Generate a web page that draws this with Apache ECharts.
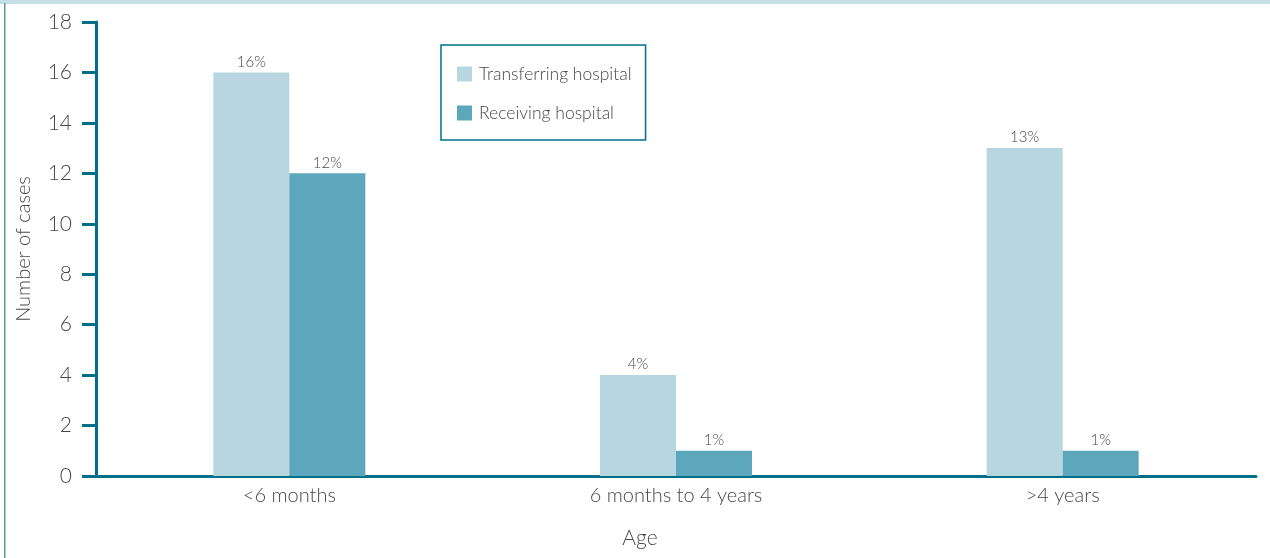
<!DOCTYPE html>
<html><head><meta charset="utf-8">
<script src="https://cdn.jsdelivr.net/npm/echarts@6/dist/echarts.min.js"></script>
<style>html,body{margin:0;padding:0;background:#fff}#c{width:1270px;height:558px}</style>
</head><body><div id="c"></div>
<script>
const categories = ['<6 months', '6 months to 4 years', '>4 years'];
const transferring = [16, 4, 13];
const receiving = [12, 1, 1];
const transferringLabels = ['16%', '4%', '13%'];
const receivingLabels = ['12%', '1%', '1%'];
const yTicks = [0, 2, 4, 6, 8, 10, 12, 14, 16, 18];

const FONT = 'Lato';
const TXT = '#474747';
const AX = '#00708a';
const chart = echarts.init(document.getElementById('c'), null, {renderer: 'canvas'});
chart.setOption({
  animation: false,
  backgroundColor: '#fff',
  textStyle: {fontFamily: FONT},
  graphic: [
    {type: 'rect', shape: {x: 0, y: 0, width: 1270, height: 4}, style: {fill: '#c5dfe6'}},
    {type: 'rect', shape: {x: 4, y: 3, width: 1.5, height: 555}, style: {fill: '#5a9aaa'}}
  ],
  legend: {
    left: 441, top: 45, orient: 'vertical',
    padding: [20, 14, 18, 16],
    borderColor: AX, borderWidth: 1.5,
    itemWidth: 15, itemHeight: 15, itemGap: 21,
    icon: 'rect',
    textStyle: {fontFamily: FONT, fontSize: 17.5, fontWeight: 300, color: TXT, padding: [0, 0, 0, 2]},
    data: ['Transferring hospital', 'Receiving hospital']
  },
  grid: {left: 96, top: 22, bottom: 82, width: 1160},
  xAxis: {
    type: 'category', data: categories,
    name: 'Age', nameLocation: 'middle', nameGap: 52,
    nameTextStyle: {fontFamily: FONT, fontSize: 21, fontWeight: 300, color: TXT, padding: [0, 0, 0, -1160 + 2 * (640 - 96)]},
    axisLine: {lineStyle: {color: AX, width: 3}},
    axisTick: {show: false},
    axisLabel: {fontFamily: FONT, fontSize: 20, fontWeight: 300, color: TXT, margin: 10}
  },
  yAxis: {
    type: 'value', min: 0, max: 18, interval: 2,
    name: 'Number of cases', nameLocation: 'middle', nameGap: 62,
    nameTextStyle: {fontFamily: FONT, fontSize: 20, fontWeight: 300, color: TXT},
    axisLine: {show: true, lineStyle: {color: AX, width: 3}},
    axisTick: {show: true, length: 14, lineStyle: {color: AX, width: 3}},
    splitLine: {show: false},
    axisLabel: {fontFamily: FONT, fontSize: 21, fontWeight: 300, color: TXT, margin: 24,
      formatter: v => yTicks.includes(v) ? String(v) : ''}
  },
  series: [
    {name: 'Transferring hospital', type: 'bar', data: transferring, barWidth: 76, barGap: '0%',
      itemStyle: {color: '#b8d6e0'},
      label: {show: true, position: 'top', distance: 3, fontFamily: FONT, fontSize: 15, fontWeight: 300, color: TXT,
        formatter: p => transferringLabels[p.dataIndex]}},
    {name: 'Receiving hospital', type: 'bar', data: receiving, barWidth: 76, barGap: '0%',
      itemStyle: {color: '#5ca7bc'},
      label: {show: true, position: 'top', distance: 3, fontFamily: FONT, fontSize: 15, fontWeight: 300, color: TXT,
        formatter: p => receivingLabels[p.dataIndex]}}
  ]
});
</script></body></html>
